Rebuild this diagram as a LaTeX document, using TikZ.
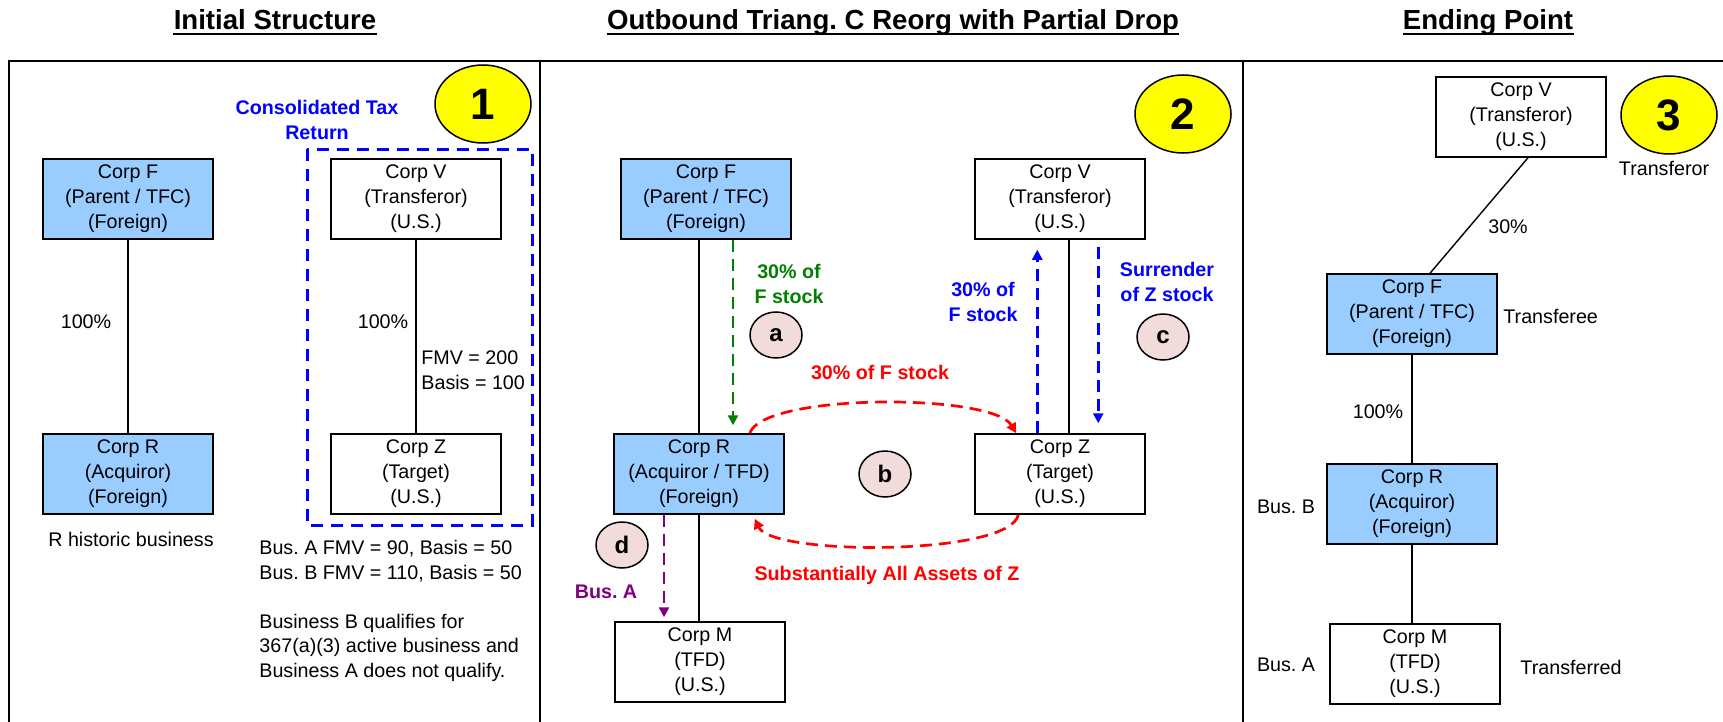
\documentclass[tikz,border=0pt]{standalone}
\usepackage{fontspec}
\setmainfont{Liberation Sans}
\usetikzlibrary{arrows.meta,calc,shapes.geometric}
\definecolor{corpblue}{HTML}{99CCFF}
\definecolor{stepyellow}{HTML}{FFFF00}
\definecolor{ltrpink}{HTML}{F2DCDB}
\definecolor{flowgreen}{HTML}{008000}
\definecolor{flowpurple}{HTML}{800080}
\begin{document}
\frenchspacing
\begin{tikzpicture}[x=0.5pt,y=-0.5pt,
  corp/.style={draw, line width=0.75pt, minimum width=85pt, minimum height=40pt,
    inner sep=0pt, align=center, font=\fontsize{9.85}{12.5}\selectfont},
  foreign/.style={corp, fill=corpblue},
  lbl/.style={inner sep=0pt, align=center, font=\fontsize{9.85}{12.5}\selectfont},
  blbl/.style={inner sep=0pt, align=center, font=\fontsize{9.85}{12.5}\selectfont\bfseries},
  ttl/.style={inner sep=0pt, anchor=base, font=\fontsize{13.8}{16}\selectfont\bfseries},
  stepmark/.style={ellipse, draw, line width=0.75pt, fill=stepyellow, minimum width=48pt,
    minimum height=39pt, inner sep=0pt, font=\fontsize{22}{24}\selectfont\bfseries},
  ltr/.style={ellipse, draw, line width=0.75pt, fill=ltrpink, minimum width=26pt,
    minimum height=23pt, inner sep=0pt, font=\fontsize{12}{14}\selectfont\bfseries},
  link/.style={draw, line width=0.7pt},
  frame/.style={draw, line width=1.2pt},
  flowline/.style={draw=#1, line width=1.35pt, dash pattern=on 6pt off 3.5pt,
    -{Triangle[length=5pt,width=5pt]}}
]
\useasboundingbox (0,0) rectangle (1723,722);

% ---------- panel frame ----------
\draw[frame] (9,722) -- (9,61) -- (1723,61);
\draw[frame] (540,61) -- (540,722);
\draw[frame] (1243,61) -- (1243,722);

% ---------- headings ----------
\node[ttl] (T1) at (275,30) {Initial Structure};
\node[ttl] (T2) at (893,30) {Outbound Triang. C Reorg with Partial Drop};
\node[ttl] (T3) at (1488,30) {Ending Point};
\foreach \t in {T1,T2,T3}
  \draw[line width=1.3pt] ($(\t.base west)+(0,4)$) -- ($(\t.base east)+(0,4)$);

% ---------- panel 1: initial structure ----------
\node[foreign] (F1) at (128,199) {Corp F\\(Parent / TFC)\\(Foreign)};
\node[foreign] (R1) at (128,474) {Corp R\\(Acquiror)\\(Foreign)};
\node[corp] (V1) at (416,199) {Corp V\\(Transferor)\\(U.S.)};
\node[corp] (Z1) at (416,474) {Corp Z\\(Target)\\(U.S.)};
\draw[link] (F1) -- (R1);
\draw[link] (V1) -- (Z1);
\node[lbl] (p1a) at (86,322) {100\%};
\node[lbl] (p1b) at (383,322) {100\%};
\node[lbl, align=left, anchor=west] (zval) at (421,370.5) {FMV = 200\\Basis = 100};
\draw[draw=blue, line width=1.5pt, dash pattern=on 6pt off 4pt] (307,149) rectangle (532,525);
\node[blbl, text=blue] (cons) at (317,119.5) {Consolidated Tax\\Return};
\node[stepmark] (S1) at (483,104) {1};
\node[lbl] (hist) at (131,539) {R historic business};
\node[lbl, align=left, anchor=north west, font=\fontsize{9.85}{12.25}\selectfont] (notes) at (259,540)
  {Bus. A FMV = 90, Basis = 50\\Bus. B FMV = 110, Basis = 50\\[12.25pt]Business B qualifies for\\367(a)(3) active business and\\Business A does not qualify.};

% ---------- panel 2: reorganization ----------
\node[foreign] (F2) at (706,199) {Corp F\\(Parent / TFC)\\(Foreign)};
\node[corp] (V2) at (1060,199) {Corp V\\(Transferor)\\(U.S.)};
\node[foreign] (R2) at (699,474) {Corp R\\(Acquiror / TFD)\\(Foreign)};
\node[corp] (Z2) at (1060,474) {Corp Z\\(Target)\\(U.S.)};
\node[corp] (M2) at (700,662) {Corp M\\(TFD)\\(U.S.)};
\node[stepmark] (S2) at (1183,114) {2};

\draw[link] (R2.north) -- (R2.north |- F2.south);
\draw[link] ($(V2.south)+(9,0)$) -- ($(Z2.north)+(9,0)$);
\draw[link] (R2.south) -- (R2.south |- M2.north);

% (a) F stock to R
\draw[flowline=flowgreen] ($(F2.south)+(27,0)$) -- ($(R2.north)+(34,-8)$);
\node[blbl, text=flowgreen] (ga) at (789,283.5) {30\% of\\F stock};
\node[ltr] (La) at (776,335) {a};

% (b) stock for assets
\draw[flowline=red] ($(R2.north east)+(-35,0)$) .. controls (763,393) and (992,393) .. ($(Z2.north west)+(42,0)$);
\draw[flowline=red] ($(Z2.south west)+(44,0)$) .. controls (1010,556) and (772,556) .. ($(R2.south east)+(-30,4)$);
\node[blbl, text=red] (rb1) at (880,372) {30\% of F stock};
\node[blbl, text=red] (rb2) at (887,575) {Substantially All Assets of Z};
\node[ltr] (Lb) at (885,474) {b};

% (c) liquidation of Z
\draw[flowline=blue] ($(Z2.north west)+(63,0)$) -- ($(V2.south west)+(63,10)$);
\draw[flowline=blue] ($(V2.south west)+(124,7)$) -- ($(Z2.north west)+(124,-10)$);
\node[blbl, text=blue] (bc1) at (983,301.5) {30\% of\\F stock};
\node[blbl, text=blue] (bc2) at (1167,281.5) {Surrender\\of Z stock};
\node[ltr] (Lc) at (1163,337) {c};

% (d) drop of Bus. A
\draw[flowline=flowpurple] ($(R2.south)+(-35,0)$) -- ($(M2.north)+(-36,-4)$);
\node[blbl, text=flowpurple] (pd) at (606,592) {Bus. A};
\node[ltr] (Ld) at (622,545) {d};

% ---------- panel 3: ending point ----------
\node[corp] (V3) at (1521,117) {Corp V\\(Transferor)\\(U.S.)};
\node[foreign] (F3) at (1412,314) {Corp F\\(Parent / TFC)\\(Foreign)};
\node[foreign] (R3) at (1412,504) {Corp R\\(Acquiror)\\(Foreign)};
\node[corp] (M3) at (1415,664) {Corp M\\(TFD)\\(U.S.)};
\node[stepmark] (S3) at (1669,115) {3};

\draw[link] ($(V3.south)+(7,0)$) -- ($(F3.north)+(18,0)$);
\draw[link] (F3.south) -- (R3.north);
\draw[link] (R3.south) -- (R3.south |- M3.north);

\node[lbl] (p3a) at (1508,227) {30\%};
\node[lbl] (p3b) at (1378,412) {100\%};
\node[lbl, anchor=west] (tee) at (1503,316) {Transferee};
\node[lbl] (tor) at (1664,168) {Transferor};
\node[lbl] (busb) at (1286,507) {Bus. B};
\node[lbl] (busa) at (1286,665) {Bus. A};
\node[lbl] (tred) at (1571,667) {Transferred};
\end{tikzpicture}
\end{document}
